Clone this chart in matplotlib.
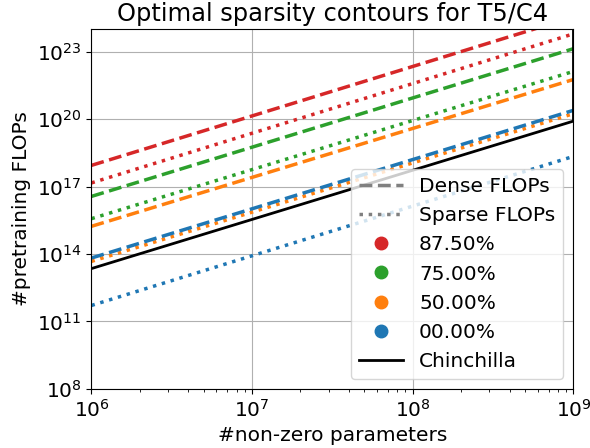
import numpy as np
import matplotlib
matplotlib.use("Agg")
import matplotlib.pyplot as plt
from matplotlib.lines import Line2D

plt.rcParams['font.size'] = 14.5

# non-zero parameter endpoints (lines are straight in log-log)
n_params = [1e6, 1e9]

sparsity_labels = ["87.50%", "75.00%", "50.00%", "00.00%"]
colors = ["tab:red", "tab:green", "tab:orange", "tab:blue"]

# log10 of pretraining FLOPs at N=1e6 and N=1e9
dense_log = [[17.94, 24.54], [16.56, 23.13], [15.23, 21.76], [13.82, 20.39]]
sparse_log = [[17.16, 23.79], [15.57, 22.12], [13.67, 20.24], [11.71, 18.34]]

chin_n = [1e6, 1e9, 1e9]
chin_log = [13.35, 19.91, 25.0]

fig = plt.figure(figsize=(5.9, 4.48), dpi=100)
ax = fig.add_axes([0.155, 0.132, 0.817, 0.803])

for c, d, s in zip(colors, dense_log, sparse_log):
    ax.plot(n_params, 10 ** np.array(d), '--', color=c, lw=2.5)
    ax.plot(n_params, 10 ** np.array(s), ':', color=c, lw=2.5)

ax.plot(chin_n, 10 ** np.array(chin_log), '-', color='black', lw=2)

ax.set_xscale('log')
ax.set_yscale('log')
ax.set_xlim(1e6, 1e9)
ax.set_ylim(1e8, 1e24)
ax.set_yticks([1e8, 1e11, 1e14, 1e17, 1e20, 1e23])
ax.yaxis.set_minor_locator(matplotlib.ticker.NullLocator())
ax.grid(True)
ax.set_title("Optimal sparsity contours for T5/C4")
ax.set_xlabel("#non-zero parameters")
ax.set_ylabel("#pretraining FLOPs")

handles = [Line2D([], [], ls='--', color='gray', lw=2.5, label='Dense FLOPs'),
           Line2D([], [], ls=':', color='gray', lw=2.5, label='Sparse FLOPs')]
for c, lab in zip(colors, sparsity_labels):
    handles.append(Line2D([], [], ls='', marker='o', markersize=9, color=c, label=lab))
handles.append(Line2D([], [], ls='-', color='black', lw=2, label='Chinchilla'))
ax.legend(handles=handles, loc='lower right', handlelength=2.2)

fig.savefig("out.png", dpi=100)
